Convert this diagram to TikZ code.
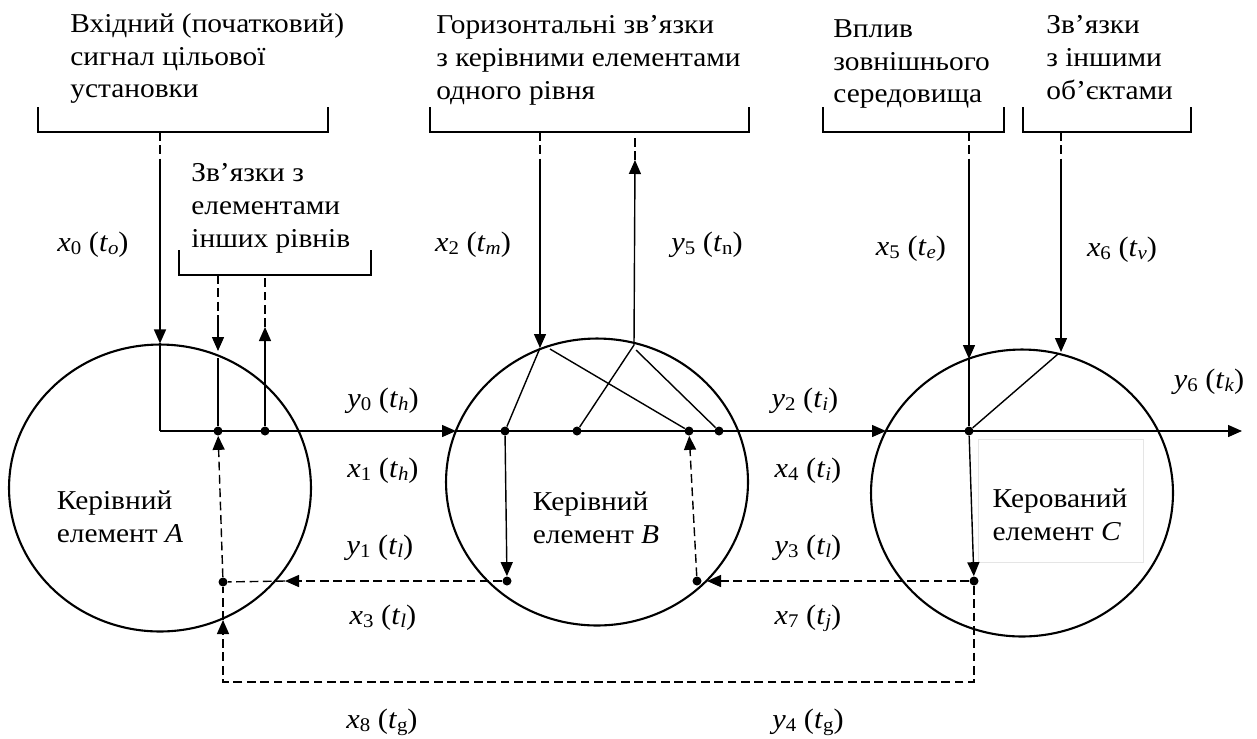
\documentclass[tikz,border=0pt]{standalone}
\usepackage{fontspec}
\setmainfont{Liberation Serif}[FakeStretch=1.08]
\usepackage{tikz}
\usetikzlibrary{arrows.meta,shapes.geometric}

\newcommand{\sub}[1]{\raisebox{-1.7pt}{\fontsize{11}{11}\selectfont #1}}
\newcommand{\sig}[3]{\textit{#1}\sub{#2}\ (\textit{t}\sub{#3})}

\begin{document}
\begin{tikzpicture}[
      x=0.02cm, y=-0.02cm,
      every node/.style={font=\fontsize{15.5}{18.7}\selectfont},
      elem/.style={draw, ellipse, line width=1.2pt, inner sep=0pt,
        minimum width=6.04cm, minimum height=5.74cm},
      dot/.style={circle, fill, inner sep=0pt, minimum size=0.18cm},
      ln/.style={line width=0.8pt},
      dsh/.style={line width=0.8pt, dash pattern=on 5pt off 2.6pt},
      arr/.style={-{Triangle[length=0.28cm, width=0.24cm]}},
      brk/.style={line width=1.1pt},
      ttl/.style={align=left, anchor=north west, inner sep=0pt},
      lbl/.style={inner sep=0pt, font=\fontsize{16}{18}\selectfont}
    ]
    \useasboundingbox (0,0) rectangle (1257,738);

    % ЕЛЕМЕНТИ
    \node[elem] (ca) at (160,488) {};
    \node[elem] (cb) at (597,482) {};
    \node[elem] (cc) at (1022,493) {};
    \node[align=left] at (120,517) {Керівний\\елемент \textit{A}};
    \node[align=left] at (596,518) {Керівний\\елемент \textit{B}};
    \draw[black!10] (978,439) rectangle (1143,562);
    \node[align=left] at (1060,515) {Керований\\елемент \textit{C}};

    % ТОЧКИ
    \node[dot] (a1) at (218,431) {};
    \node[dot] (a0) at (265,431) {};
    \node[dot] (a2) at (223,582) {};
    \node[dot] (b1) at (505,431) {};
    \node[dot] (b2) at (577,431) {};
    \node[dot] (b3) at (689,431) {};
    \node[dot] (b4) at (719,431) {};
    \node[dot] (b5) at (507,581) {};
    \node[dot] (b6) at (697,581) {};
    \node[dot] (c1) at (969,431) {};
    \node[dot] (c2) at (974,581) {};

    % ДУЖКИ
    \node[ttl] at (70,13) {Вхідний (початковий)\\сигнал цільової\\установки};
    \draw[brk] (38,107) -- (38,132) -- (328,132) -- (328,107);
    \node[ttl] at (191,163) {Зв’язки з\\елементами\\інших рівнів};
    \draw[brk] (179,250) -- (179,275) -- (371,275) -- (371,250);
    \node[ttl] at (436,15) {Горизонтальні зв’язки\\з керівними елементами\\одного рівня};
    \draw[brk] (430,107) -- (430,132) -- (749,132) -- (749,107);
    \node[ttl] at (833,19) {Вплив\\зовнішнього\\середовища};
    \draw[brk] (823,107) -- (823,132) -- (1004,132) -- (1004,107);
    \node[ttl] at (1046,15) {Зв’язки\\з іншими\\об’єктами};
    \draw[brk] (1023,107) -- (1023,132) -- (1191,132) -- (1191,107);

    \coordinate (p0) at (160,132);  \coordinate (q0) at (160,165);
    \coordinate (p1) at (218,275);  \coordinate (q1) at (218,322);
    \coordinate (t1) at (218,351);  \coordinate (r1) at (218,358);
    \coordinate (p2) at (265,275);  \coordinate (q2) at (265,327);
    \coordinate (p3) at (540,132);  \coordinate (q3) at (540,160);
    \coordinate (t3) at (540,348);  \coordinate (s3) at (550,349);
    \coordinate (p4) at (635,132);  \coordinate (q4) at (635,160);
    \coordinate (u4) at (634,345);  \coordinate (s4) at (636,350);
    \coordinate (p5) at (969,132);  \coordinate (q5) at (969,163);
    \coordinate (t5) at (969,359);
    \coordinate (p6) at (1061,132); \coordinate (q6) at (1061,163);
    \coordinate (t6) at (1061,352); \coordinate (s6) at (1058,354);
    \coordinate (k0) at (160,431);
    \coordinate (bin) at (456,431);
    \coordinate (cin) at (886,431);
    \coordinate (out) at (1242,431);
    \coordinate (bout) at (707,581);
    \coordinate (aout) at (285,581);
    \coordinate (abot) at (223,620);
    \coordinate (cdn) at (974,682);
    \coordinate (adn) at (223,682);

    % ЗВ'ЯЗКИ
    \draw[dsh] (p0) -- (q0);
    \draw[ln, arr] (q0) -- (ca.north);
    \draw[ln] (ca.north) -- (k0);
    \draw[ln, arr] (k0) -- (bin);
    \draw[ln, arr] (bin) -- (cin);
    \draw[ln, arr] (cin) -- (out);

    \draw[dsh] (p1) -- (q1);
    \draw[ln, arr] (q1) -- (t1);
    \draw[ln] (r1) -- (a1);
    \draw[dsh] (q2) -- (p2);
    \draw[ln, arr] (a0) -- (q2);

    \draw[dsh] (p3) -- (q3);
    \draw[ln, arr] (q3) -- (t3);
    \draw[ln] (t3) -- (b1);
    \draw[ln] (s3) -- (b3);
    \draw[dsh] (q4) -- (p4);
    \draw[ln, arr] (u4) -- (q4);
    \draw[ln] (b2) -- (u4);
    \draw[ln] (s4) -- (b4);
    \draw[ln, arr] (b1) -- (b5);

    \draw[dsh] (p5) -- (q5);
    \draw[ln, arr] (q5) -- (t5);
    \draw[ln] (t5) -- (c1);
    \draw[dsh] (p6) -- (q6);
    \draw[ln, arr] (q6) -- (t6);
    \draw[ln] (s6) -- (c1);
    \draw[ln, arr] (c1) -- (c2);

    \draw[dsh, arr] (c2) -- (bout);
    \draw[dsh, arr] (b6) -- (b3);
    \draw[dsh, arr] (b5) -- (aout);
    \draw[dsh] (aout) -- (a2);
    \draw[dsh, arr] (a2) -- (a1);
    \draw[dsh, arr] (c2) -- (cdn) -- (adn) -- (abot);
    \draw[dsh] (abot) -- (a2);

    % СИГНАЛИ
    \node[lbl] at (93,245) {\sig{x}{0}{\textit{o}}};
    \node[lbl] at (383,401) {\sig{y}{0}{\textit{h}}};
    \node[lbl] at (383,471) {\sig{x}{1}{\textit{h}}};
    \node[lbl] at (380,548) {\sig{y}{1}{\textit{l}}};
    \node[lbl] at (383,618) {\sig{x}{3}{\textit{l}}};
    \node[lbl] at (382,722) {\sig{x}{8}{g}};
    \node[lbl] at (473,245) {\sig{x}{2}{\textit{m}}};
    \node[lbl] at (707,245) {\sig{y}{5}{n}};
    \node[lbl] at (805,401) {\sig{y}{2}{\textit{i}}};
    \node[lbl] at (808,471) {\sig{x}{4}{\textit{i}}};
    \node[lbl] at (808,548) {\sig{y}{3}{\textit{l}}};
    \node[lbl] at (808,618) {\sig{x}{7}{\textit{j}}};
    \node[lbl] at (808,722) {\sig{y}{4}{g}};
    \node[lbl] at (911,249) {\sig{x}{5}{\textit{e}}};
    \node[lbl] at (1122,250) {\sig{x}{6}{\textit{v}}};
    \node[lbl] at (1209,382) {\sig{y}{6}{\textit{k}}};
  \end{tikzpicture}
\end{document}
